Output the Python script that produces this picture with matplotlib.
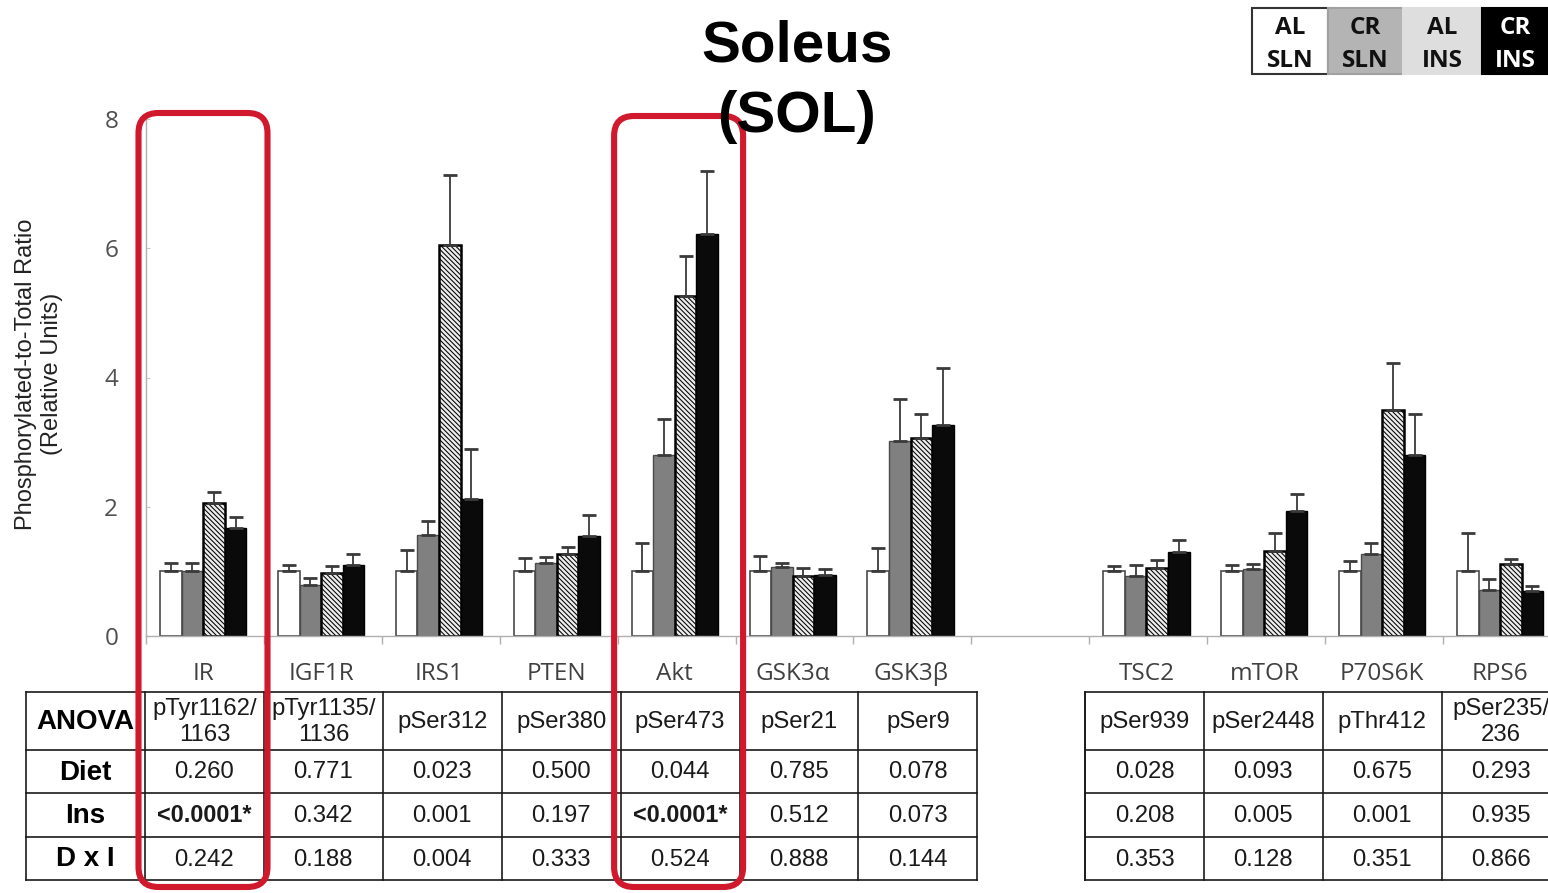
import matplotlib
matplotlib.use("Agg")
import matplotlib.pyplot as plt
import numpy as np
from matplotlib.patches import Rectangle, FancyBboxPatch

W, H, DPI = 1548, 893, 100

# ---- data -------------------------------------------------------------
categories = ["IR", "IGF1R", "IRS1", "PTEN", "Akt", "GSK3α", "GSK3β",
              "TSC2", "mTOR", "P70S6K", "RPS6"]
series = ["AL SLN", "CR SLN", "AL INS", "CR INS"]

al_sln = [1.00, 1.00, 1.00, 1.00, 1.00, 1.00, 1.00, 1.00, 1.00, 1.00, 1.00]
cr_sln = [1.00, 0.79, 1.56, 1.13, 2.80, 1.07, 3.02, 0.93, 1.03, 1.27, 0.71]
al_ins = [2.06, 0.98, 6.05, 1.27, 5.26, 0.93, 3.06, 1.05, 1.32, 3.50, 1.11]
cr_ins = [1.67, 1.10, 2.12, 1.55, 6.22, 0.94, 3.27, 1.30, 1.94, 2.80, 0.70]

al_sln_sem = [0.13, 0.10, 0.33, 0.20, 0.44, 0.24, 0.36, 0.08, 0.10, 0.16, 0.59]
cr_sln_sem = [0.13, 0.11, 0.22, 0.09, 0.56, 0.06, 0.65, 0.17, 0.08, 0.17, 0.17]
al_ins_sem = [0.17, 0.10, 1.09, 0.11, 0.62, 0.12, 0.38, 0.13, 0.28, 0.72, 0.08]
cr_ins_sem = [0.17, 0.17, 0.77, 0.32, 0.98, 0.10, 0.88, 0.19, 0.26, 0.64, 0.08]

sites = ["pTyr1162/\n1163", "pTyr1135/\n1136", "pSer312", "pSer380", "pSer473",
         "pSer21", "pSer9", "pSer939", "pSer2448", "pThr412", "pSer235/\n236"]
p_diet = ["0.260", "0.771", "0.023", "0.500", "0.044", "0.785", "0.078",
          "0.028", "0.093", "0.675", "0.293"]
p_ins = ["<0.0001*", "0.342", "0.001", "0.197", "<0.0001*", "0.512", "0.073",
         "0.208", "0.005", "0.001", "0.935"]
p_dxi = ["0.242", "0.188", "0.004", "0.333", "0.524", "0.888", "0.144",
         "0.353", "0.128", "0.351", "0.866"]
row_names = ["Diet", "Ins", "D x I"]

highlighted = ["IR", "Akt"]

# ---- figure -----------------------------------------------------------
plt.rcParams["hatch.linewidth"] = 0.75
fig = plt.figure(figsize=(W / DPI, H / DPI), dpi=DPI)
fig.patch.set_facecolor("white")

SLOT_PX = 117.9
n_slots = 12
ax = fig.add_axes([146 / W, (H - 636) / H, n_slots * SLOT_PX / W, 517 / H])
ax.set_xlim(0, n_slots)
ax.set_ylim(0, 8)

# one empty slot separates the two signalling groups
slots = np.array(list(range(7)) + list(range(8, 12)))
centers = slots + 0.5 - 0.015
bw = 0.183

means = [al_sln, cr_sln, al_ins, cr_ins]
sems = [al_sln_sem, cr_sln_sem, al_ins_sem, cr_ins_sem]
styles = [
    dict(facecolor="white", edgecolor="#4a4a4a", linewidth=1.2),
    dict(facecolor="#808080", edgecolor="#4a4a4a", linewidth=1.0),
    dict(facecolor="#ececec", edgecolor="black", linewidth=1.8,
         hatch="\\\\\\\\\\\\\\"),
    dict(facecolor="#0a0a0a", edgecolor="black", linewidth=1.0),
]
for k in range(4):
    x = centers + (k - 1.5) * bw
    ax.bar(x, means[k], width=bw, zorder=2, **styles[k])
    ax.errorbar(x, means[k], yerr=[np.zeros(len(x)), sems[k]], fmt="none",
                ecolor="#3a3a3a", elinewidth=1.3, capsize=5, capthick=2.0,
                zorder=3)

for side in ("top", "right"):
    ax.spines[side].set_visible(False)
for side in ("left", "bottom"):
    ax.spines[side].set_color("#b0b0b0")
    ax.spines[side].set_linewidth(1.0)

ax.set_yticks([0, 2, 4, 6, 8])
ax.set_yticklabels(["0", "2", "4", "6", "8"], fontfamily="Open Sans",
                   fontsize=17.5, color="#505050")
ax.tick_params(axis="y", length=3, direction="in", color="#c8c8c8", pad=20)

ax.set_xticks(centers)
ax.set_xticklabels(categories, fontfamily=["Open Sans", "DejaVu Sans"],
                   fontsize=17.5, color="#404040")
ax.set_xticks(np.arange(0, n_slots + 1), minor=True)
ax.tick_params(axis="x", which="major", length=0, pad=19)
ax.tick_params(axis="x", which="minor", length=6, color="#b0b0b0", width=1.0)

# ---- overlay in pixel coordinates ------------------------------------
ov = fig.add_axes([0, 0, 1, 1], zorder=5)
ov.set_xlim(0, W)
ov.set_ylim(H, 0)
ov.axis("off")
ov.patch.set_alpha(0)

# y-axis title
ov.text(39, 374, "Phosphorylated-to-Total Ratio\n(Relative Units)",
        rotation=90, ha="center", va="center", fontsize=17,
        fontfamily="Liberation Sans", color="#222222", linespacing=1.2)

# ANOVA table
COL_W = 118.9
sections = [(145, 7), (1085, 4)]
row_y = [692, 750, 793, 837, 880]
line_kw = dict(color="#1a1a1a", lw=1.2, zorder=6, solid_capstyle="projecting")

col_left = []
for x0, n in sections:
    left = 26 if x0 == 145 else x0
    right = x0 + n * COL_W
    for y in row_y:
        ov.plot([left, right], [y, y], **line_kw)
    xs = [left] + [x0 + j * COL_W for j in range(n + 1)]
    for x in xs:
        ov.plot([x, x], [row_y[0], row_y[-1]], **line_kw)
    col_left += [x0 + j * COL_W for j in range(n)]
col_centers = [c + COL_W / 2 for c in col_left]

ov.text(85, (row_y[0] + row_y[1]) / 2 + 1, "ANOVA", ha="center", va="center",
        fontsize=20, fontweight="bold", fontfamily="Liberation Sans", zorder=6)
for r, name in enumerate(row_names):
    ov.text(85, (row_y[r + 1] + row_y[r + 2]) / 2 + 1, name, ha="center",
            va="center", fontsize=20, fontweight="bold",
            fontfamily="Liberation Sans", zorder=6)

for j, cx in enumerate(col_centers):
    ov.text(cx, (row_y[0] + row_y[1]) / 2 + 1, sites[j], ha="center",
            va="center", fontsize=17.2, fontfamily="Liberation Sans",
            linespacing=1.2, color="#1a1a1a", zorder=6)
    for r, vals in enumerate([p_diet, p_ins, p_dxi]):
        v = vals[j]
        ov.text(cx, (row_y[r + 1] + row_y[r + 2]) / 2 + 1, v, ha="center",
                va="center", fontsize=17.2 if not v.startswith("<") else 16.8,
                fontweight="bold" if v.startswith("<") else "normal",
                fontfamily="Liberation Sans", color="#1a1a1a", zorder=6)

# red highlight frames around selected proteins
for name in highlighted:
    i = categories.index(name)
    xl = col_left[i] - 6.5
    top = 113 if i == 0 else 116
    ov.add_patch(FancyBboxPatch((xl, top), 129, 887 - top,
                                boxstyle="round,pad=0,rounding_size=20",
                                facecolor="none", edgecolor="#d0192d",
                                linewidth=4.4, zorder=7))

# title
ov.text(797, 47, "Soleus", ha="center", va="center", fontsize=42,
        fontweight="bold", fontfamily="Liberation Sans", zorder=8)
ov.text(797, 117, "(SOL)", ha="center", va="center", fontsize=42,
        fontweight="bold", fontfamily="Liberation Sans", zorder=8)

# legend boxes
box_x = [1252, 1328, 1403, 1482, 1560]
box_fill = ["white", "#b4b4b4", "#dedede", "#000000"]
box_edge = ["#333333", "#a0a0a0", "#dedede", "#000000"]
box_text = ["#111111", "#111111", "#111111", "white"]
for k, name in enumerate(series):
    ov.add_patch(Rectangle((box_x[k], 8), box_x[k + 1] - box_x[k], 66,
                           facecolor=box_fill[k], edgecolor=box_edge[k],
                           linewidth=1.5, zorder=6))
    top_word, bottom_word = name.split(" ")
    cx = (box_x[k] + min(box_x[k + 1], W)) / 2
    for word, y in ((top_word, 28), (bottom_word, 61)):
        ov.text(cx, y, word, ha="center", va="center", fontsize=17.5,
                fontweight="bold", fontfamily="Open Sans",
                color=box_text[k], zorder=7)

fig.savefig("out.png", dpi=DPI)
